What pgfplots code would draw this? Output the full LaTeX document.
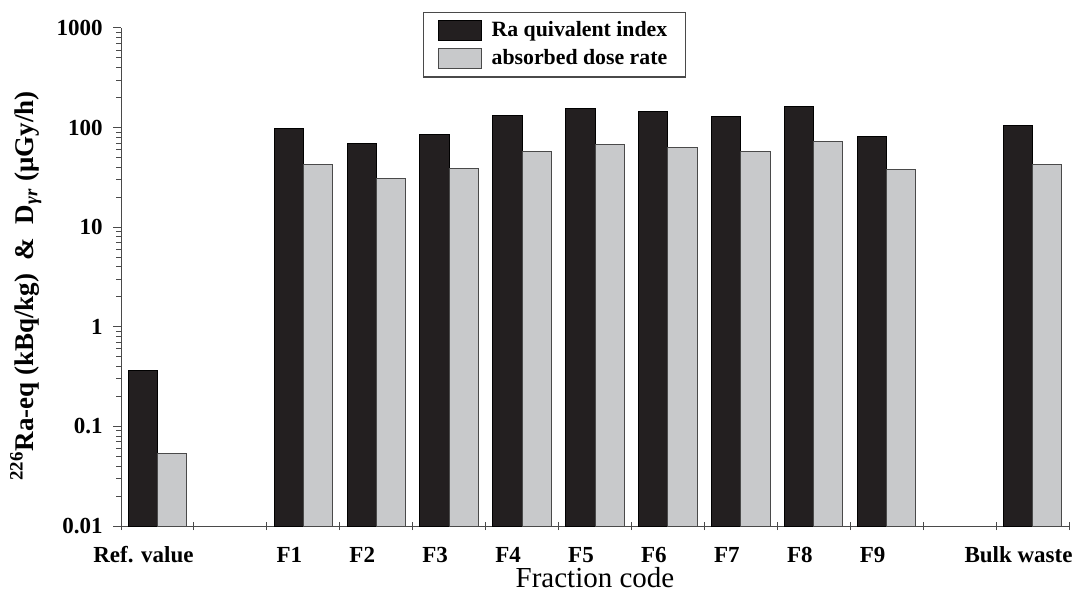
\documentclass[border=0pt]{standalone}
\usepackage{pgfplots}
\pgfplotsset{compat=1.18}
\usepackage{fontspec}
\setmainfont{Liberation Serif}
\definecolor{barblack}{HTML}{231F20}
\definecolor{bargray}{HTML}{C8C9CB}
\definecolor{axgray}{HTML}{4A4A4A}
\begin{document}
\begin{tikzpicture}
\begin{axis}[
  name=ax,
  width=474pt, height=249pt, scale only axis,
  ymode=log, ymin=0.01, ymax=1000, log origin=infty,
  xmin=-0.5, xmax=12.5,
  axis lines=left, axis line style={-, axgray, line width=0.5pt},
  ybar=0pt, bar width=0.4,
  xtick={-0.5,0.5,...,12.5},
  x tick label as interval=true,
  xticklabels={Ref. value,,F1,F2,F3,F4,F5,F6,F7,F8,F9,,Bulk waste,},
  xtick align=center, ytick align=outside,
  major tick length=4pt, minor tick length=2.5pt,
  tick style={axgray, line width=0.5pt},
  ytick={0.01,0.1,1,10,100,1000},
  yticklabels={0.01,0.1,1,10,100,1000},
  yticklabel style={font=\bfseries\fontsize{11.5}{13}\selectfont, anchor=east, inner sep=0pt, xshift=-5pt},
  xticklabel style={font=\bfseries\fontsize{11.5}{13}\selectfont, anchor=base, yshift=-16pt, xshift=-7pt},
  xlabel={Fraction code},
  xlabel style={at={(axis description cs:0.5,-0.1225)}, anchor=base, font=\fontsize{14.5}{16}\selectfont},
  ylabel={\textsuperscript{226}Ra-eq (kBq/kg) \ \& \ D\textsubscript{\textit{γr}} (μGy/h)},
  ylabel style={at={(axis description cs:-0.1005,0.482)}, anchor=center, font=\bfseries\fontsize{13.5}{15}\selectfont},
  legend style={at={(0.3186,1.032)}, anchor=north west, draw=axgray, line width=0.6pt,
    font=\bfseries\fontsize{10.9}{13}\selectfont, inner xsep=7pt, inner ysep=2.5pt, row sep=1pt,
    /tikz/every odd column/.append style={column sep=3pt}},
  legend cell align=left,
]
\addplot[fill=barblack, draw=black, line width=0.5pt,
  legend image code/.code={\draw[fill=barblack, draw=black, line width=0.5pt] (0pt,-5pt) rectangle (21.5pt,5pt);}]
  coordinates {(0,0.366) (2,97) (3,70) (4,86) (5,131) (6,154) (7,144) (8,130) (9,164) (10,82) (12,104)};
\addlegendentry{Ra quivalent index}
\addplot[fill=bargray, draw=axgray, line width=0.5pt,
  legend image code/.code={\draw[fill=bargray, draw=axgray, line width=0.5pt] (0pt,-5pt) rectangle (21.5pt,5pt);}]
  coordinates {(0,0.054) (2,43) (3,30.7) (4,38.7) (5,57) (6,68) (7,63) (8,57) (9,72) (10,38) (12,43)};
\addlegendentry{absorbed dose rate}
\end{axis}
\pgfresetboundingbox
\path ([shift={(-60.5pt,-35pt)}]ax.south west) rectangle ([shift={(5.5pt,14pt)}]ax.north east);
\end{tikzpicture}
\end{document}
